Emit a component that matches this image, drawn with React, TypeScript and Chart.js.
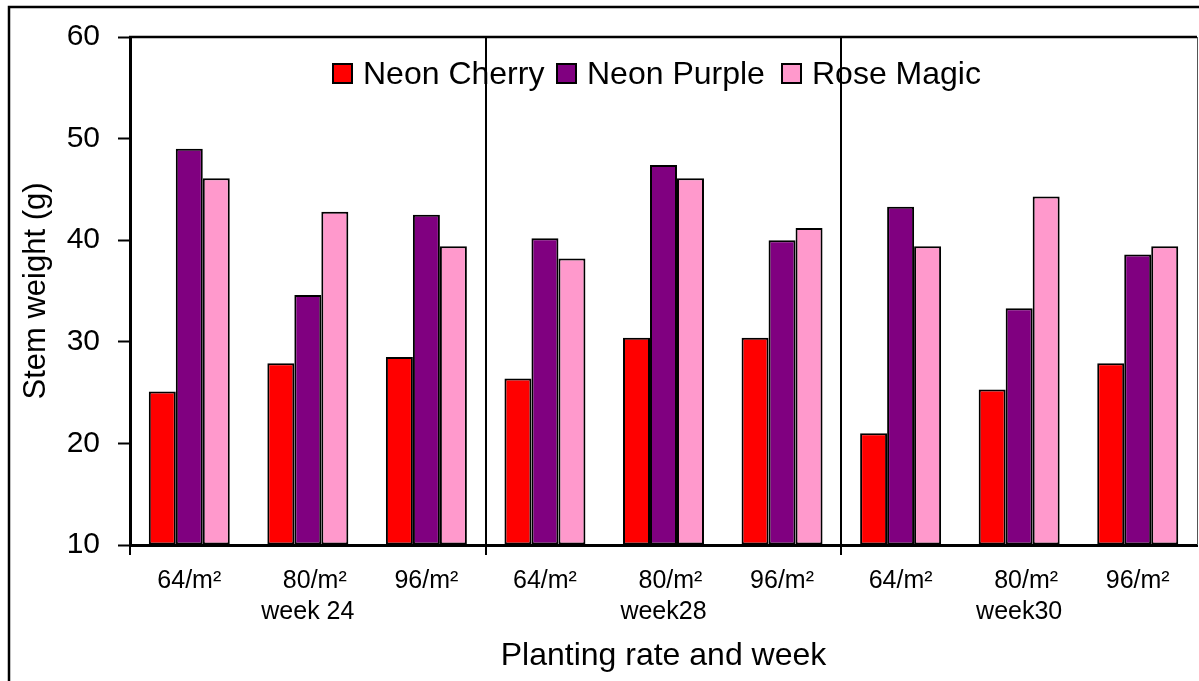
import React, { useEffect, useRef } from "react";
import { Chart, registerables } from "chart.js";

Chart.register(...registerables);

const rates = ["64/m²", "80/m²", "96/m²"];
const weeks = ["week 24", "week28", "week30"];
const seriesNames = ["Neon Cherry", "Neon Purple", "Rose Magic"];
const seriesColors = ["#FF0000", "#800080", "#FF99CC"];
const neonCherry = [25.1, 27.9, 28.5, 26.4, 30.4, 30.4, 21.0, 25.3, 27.9];
const neonPurple = [49.0, 34.6, 42.5, 40.2, 47.4, 40.0, 43.3, 33.3, 38.6];
const roseMagic = [46.1, 42.8, 39.4, 38.2, 46.1, 41.2, 39.4, 44.3, 39.4];
const yTicks = [10, 20, 30, 40, 50, 60];

const FONT = "'Liberation Sans', Arial, Helvetica, sans-serif";

const labels: (string | string[])[] = [];
weeks.forEach((w) => {
  rates.forEach((r, i) => {
    if (i === 1) labels.push(["  " + r, w]);
    else labels.push(r);
  });
});

const framePlugin = {
  id: "framePlugin",
  beforeDraw(chart: any) {
    const ctx = chart.ctx;
    ctx.save();
    ctx.fillStyle = "#fff";
    ctx.fillRect(0, 0, chart.width, chart.height);
    ctx.strokeStyle = "#000";
    ctx.lineWidth = 2.5;
    ctx.strokeRect(9, 7, chart.width + 50, chart.height + 50);
    ctx.restore();
  },
  afterDraw(chart: any) {
    const ctx = chart.ctx;
    const a = chart.chartArea;
    ctx.save();
    ctx.strokeStyle = "#000";
    ctx.lineWidth = 2.5;
    ctx.beginPath();
    ctx.moveTo(a.left - 1, a.top);
    ctx.lineTo(a.right, a.top);
    ctx.stroke();
    ctx.strokeStyle = "#555";
    ctx.lineWidth = 1;
    ctx.beginPath();
    ctx.moveTo(a.right + 0.5, a.top);
    ctx.lineTo(a.right + 0.5, a.bottom);
    ctx.stroke();

    // legend
    const boxX = [333, 557, 782];
    const yMid = 74;
    ctx.font = "32px " + FONT;
    ctx.textBaseline = "middle";
    ctx.textAlign = "left";
    chart.data.datasets.forEach((ds: any, i: number) => {
      ctx.fillStyle = ds.backgroundColor;
      ctx.fillRect(boxX[i], yMid - 10, 19, 19);
      ctx.strokeStyle = "#000";
      ctx.lineWidth = 2;
      ctx.strokeRect(boxX[i], yMid - 10, 19, 19);
      ctx.fillStyle = "#000";
      ctx.fillText(ds.label, boxX[i] + 30, yMid + 1);
    });
    ctx.restore();
  },
};

export default function App() {
  const ref = useRef<HTMLCanvasElement | null>(null);
  useEffect(() => {
    if (!ref.current) return;
    const data = [neonCherry, neonPurple, roseMagic];
    const chart = new Chart(ref.current, {
      type: "bar",
      data: {
        labels,
        datasets: data.map((d, i) => ({
          label: seriesNames[i],
          data: d,
          backgroundColor: seriesColors[i],
          borderColor: "#000",
          borderWidth: 2,
          borderSkipped: false,
          base: 10,
          categoryPercentage: 0.683,
          barPercentage: 1,
        })),
      },
      options: {
        responsive: false,
        animation: false,
        layout: { padding: { left: 0, top: 37, right: 2, bottom: 0 } },
        plugins: {
          legend: { display: false },
          tooltip: { enabled: false },
        },
        scales: {
          x: {
            offset: true,
            grid: {
              offset: true,
              drawOnChartArea: true,
              color: (c: any) => (c.index === 3 || c.index === 6 ? "#000" : "rgba(0,0,0,0)"),
              tickColor: (c: any) => (c.index % 3 === 0 ? "#000" : "rgba(0,0,0,0)"),
              lineWidth: 2,
              tickWidth: 2,
              tickLength: 10,
            },
            border: { display: true, color: "#000", width: 3 },
            ticks: {
              color: "#000",
              font: { family: FONT, size: 25, lineHeight: 1.25 },
              padding: 10,
              maxRotation: 0,
              autoSkip: false,
            },
            title: {
              display: true,
              text: "Planting rate and week",
              color: "#000",
              font: { family: FONT, size: 32, lineHeight: 1.2 },
              padding: { top: 0, bottom: 6 },
            },
            afterFit: (s: any) => {
              s.height = 136;
            },
          },
          y: {
            min: yTicks[0],
            max: yTicks[yTicks.length - 1],
            afterBuildTicks: (s: any) => {
              s.ticks = yTicks.map((v) => ({ value: v }));
            },
            grid: {
              drawOnChartArea: false,
              tickColor: "#000",
              tickLength: 12,
              tickWidth: 2,
            },
            border: { display: true, color: "#000", width: 3 },
            ticks: {
              color: "#000",
              font: { family: FONT, size: 30 },
              padding: 18,
            },
            title: {
              display: true,
              text: "Stem weight (g)",
              color: "#000",
              font: { family: FONT, size: 31, lineHeight: 1.2 },
              padding: { top: 18, bottom: 0 },
            },
            afterFit: (s: any) => {
              s.width = 130;
            },
          },
        },
      },
      plugins: [framePlugin],
    });
    return () => chart.destroy();
  }, []);
  return (
    <div style={{ position: "fixed", left: 0, top: 0, width: 1199, height: 681 }}>
      <canvas ref={ref} width={1199} height={681} style={{ display: "block" }} />
    </div>
  );
}
